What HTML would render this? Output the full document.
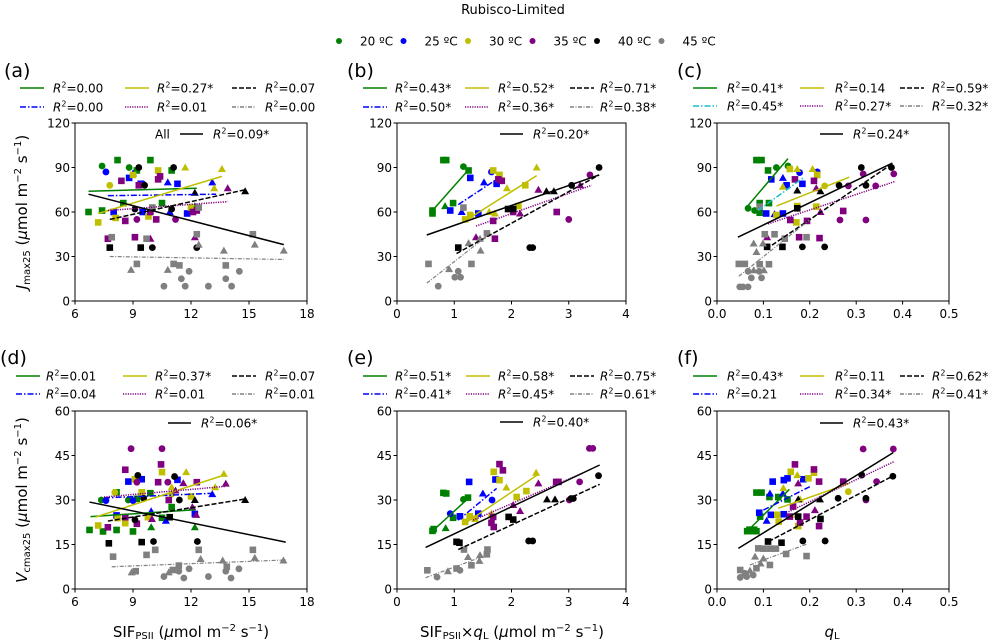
<!DOCTYPE html>
<html><head><meta charset="utf-8">
<style>
html,body{margin:0;padding:0;background:#fff;}
svg{display:block;font-family:"DejaVu Sans","Liberation Sans",sans-serif;}
</style></head>
<body>
<svg id="s" width="1000" height="640" viewBox="0 0 1000 640" xmlns="http://www.w3.org/2000/svg">
<text x="513" y="14" font-size="13" text-anchor="middle">Rubisco-Limited</text>
</svg>
<script>
const S=document.getElementById('s');
const NS='http://www.w3.org/2000/svg';
function el(t,a,txt){const e=document.createElementNS(NS,t);for(const k in a)e.setAttribute(k,a[k]);if(txt!==undefined)e.innerHTML=txt;S.appendChild(e);return e;}
const C=['#008000','#0000ff','#bfbf00','#800080','#000000','#808080'];
const labs=['20 ºC','25 ºC','30 ºC','35 ºC','40 ºC','45 ºC'];
for(let i=0;i<6;i++){const x=339+i*64.5;el('circle',{cx:x,cy:41,r:3,fill:C[i]});el('text',{x:x+21,y:45.5,'font-size':12},labs[i]);}
const DASH={solid:'',dash:'5,2',dashdot:'6,2,1.5,2',dot:'1.2,1.2',dashdot2:'4,1.5,1,1.5'};
function R2(v){return '<tspan font-style="italic">R</tspan><tspan dy="-5" font-size="8">2</tspan><tspan dy="5">='+v+'</tspan>';}
const P=[
{L:75,R:307,T:123,B:301,x0:6,x1:18,ym:120,xt:[6,9,12,15,18],xl:['6','9','12','15','18'],yt:[0,30,60,90,120],lab:'(a)',labY:70,ly:[88,107],
 lx:[20,125,232],tx:[53,157,265],r2:['0.00','0.27*','0.07','0.00','0.01','0.00'],all:[180,134,'0.09*',true],
 pts:[
 "o7.4,91 s8.2,95 o8.8,90 s9.9,95 s6.7,60 s7.4,61 s8.5,66 s9.2,88 s10.5,66 s11,88 t12.2,64",
 "o7.6,87 s8.8,83 t9,86 s9.4,79 o9.5,79 t10.8,80 s11.3,79 t13.1,80 s8,60 s9.5,60 t10.9,60 s11.8,59",
 "s7.2,53 o7.8,78 s8.1,56 s9,85 s9.8,57 s10.3,88 t11.7,90 t13.6,89 t13.2,76 s12,63 s10,63",
 "s7.7,42 s8.4,81 s8.6,54 s9.1,43 o9.2,55 t9.9,42 s10.2,55 s10.4,84 s10.3,82 o11.2,55 t12.2,43 s12.1,60 s12.3,61 t13.9,76 s9.9,60 s9.3,78",
 "o9.3,90 o11.1,90 s7.8,36 s9.4,36 o10,36 o12.3,36 o9.1,62 o11,62 t12.2,73 t14.8,74 o9.6,78",
 "s7.9,43 s9.7,42 t8.9,21 s9.2,25 t10.8,21 s11.1,25 s11.4,24 o11.5,15 o10.6,10 o11.7,10 s12.3,45 t12.4,38 s12.4,63 o11.9,20 o12.9,10 t13.7,34 s13.8,24 o13.8,15 o14.1,10 o14.5,20 s15.2,45 t15.3,38 t16.8,34 s10,63"],
 lines:[[6.7,74,12.3,76],[7.7,71,13.3,72],[7.2,59,13.6,84],[7.7,61,13.9,67],[7.8,55,14.8,75],[7.8,30,16.8,28]],allL:[6.7,72,16.8,38]},
{L:397,R:626,T:123,B:301,x0:0,x1:4,ym:120,xt:[0,1,2,3,4],xl:['0','1','2','3','4'],yt:[0,30,60,90,120],lab:'(b)',labY:70,ly:[88,107],
 lx:[363,465,570],tx:[395,498,600],r2:['0.43*','0.52*','0.71*','0.50*','0.36*','0.38*'],all:[500,134,'0.20*',false],
 pts:[
 "s0.81,95 s0.86,95 o1.16,90.6 s1.25,88 s0.62,61 s0.62,59 t0.84,64 s0.98,66",
 "s1.28,83 o1.65,87 t1.52,80 s1.74,79 s0.93,61 t1.13,60 s1.42,59",
 "s1.68,88 s1.79,85 t1.92,76 s2.24,78 t2.44,90 s1.19,55 s1.28,58 t1.61,60 t1.71,59 s2.12,64",
 "s1.77,82 s1.83,81 t2.47,75 o3.37,85 t3.2,78 s2.79,60 o3.0,55 s1.68,54 t2.15,59 s2.03,60 t1.38,43 s1.71,42",
 "o3.53,90 o3.05,78 t2.61,74 t2.74,74 s1.94,62 s2.03,62 s1.07,36 o2.32,36 o2.37,36",
 "s0.55,25 s1.3,25 t0.91,21.5 o1.07,20 o1.01,16 o1.11,16 o0.72,10 s1.16,63 s1.57,45.6 t1.45,42 t1.25,39 t1.46,34"],
 lines:[[0.62,61,1.26,89],[1.07,65,1.74,82],[1.17,53.5,2.44,84.5],[1.38,50.5,3.4,78],[1.04,32,3.53,85],[0.52,12,1.63,45.6]],allL:[0.52,44.5,3.53,85]},
{L:717,R:949,T:123,B:301,x0:0,x1:0.5,ym:120,xt:[0,.1,.2,.3,.4,.5],xl:['0.0','0.1','0.2','0.3','0.4','0.5'],yt:[0,30,60,90,120],lab:'(c)',labY:70,ly:[88,106],
 lx:[693,800,900],tx:[727,835,932],r2:['0.41*','0.14','0.59*','0.45*','0.27*','0.32*'],all:[820,134,'0.24*',false],cyan:true,
 pts:[
 "s0.085,95 s0.096,95 s0.11,88 o0.128,90 o0.153,91 o0.067,62.5 o0.081,61 s0.092,59.5 s0.112,66 s0.092,66",
 "s0.117,82 t0.142,83 s0.15,78 o0.178,86.6 s0.184,79 o0.216,87 s0.106,59 t0.124,58.6 s0.142,59",
 "s0.157,89 t0.173,89 t0.206,89 s0.216,85 o0.232,77.6 t0.142,77 s0.128,58 s0.171,53 s0.173,64 s0.214,63.6",
 "s0.168,82 s0.209,81 t0.214,76 o0.283,77.6 o0.315,85.7 o0.342,77.6 o0.381,85.7 o0.265,54.6 s0.272,60.7 o0.321,54.6 s0.158,54.6 s0.194,54 t0.108,43 s0.177,43 s0.221,42.4 t0.223,60",
 "o0.311,90 o0.321,78 o0.263,78 t0.223,74 t0.173,74.5 s0.173,62.5 o0.376,90 s0.108,36.5 s0.141,36.5 o0.184,36.5 o0.232,36.5",
 "s0.193,43 s0.124,45 s0.103,45 s0.146,42 t0.079,38.8 t0.099,38.8 t0.085,33 s0.047,25 s0.06,25 s0.092,24.8 s0.112,24.8 o0.067,20 t0.079,20.7 o0.091,20 t0.101,20.7 o0.074,15.6 o0.096,15.6 o0.049,9.5 o0.056,9.5 o0.067,9.5 s0.092,63.6"],
 lines:[[0.065,63.6,0.153,96],[0.088,61,0.186,83],[0.128,64,0.285,83.5],[0.11,52,0.383,80.5],[0.106,35,0.38,93],[0.047,16.7,0.199,54.6]],allL:[0.045,43,0.378,93]},
{L:75,R:307,T:411,B:589,x0:6,x1:18,ym:60,xt:[6,9,12,15,18],xl:['6','9','12','15','18'],yt:[0,15,30,45,60],lab:'(d)',labY:357,ly:[376,394],
 lx:[16,123,232],tx:[46,155,265],r2:['0.01','0.37*','0.07','0.04','0.01','0.01'],all:[168,423,'0.06*',false],
 pts:[
 "o7.36,30 s8.15,32.6 o8.76,30 s9.9,32.3 s6.75,19.9 s7.45,19.4 s8.15,19.9 s9.0,19.4 s9.2,30.4 t9.94,20.8 s10.5,24 s11,27.6 t12.2,20.8",
 "o7.6,29.8 s8.76,36.2 s9.45,37 o9.0,29.8 t9.94,26.2 t10.7,23 s11.3,36.8 s12.2,25.3 t13.1,32 s8.15,24.8",
 "o8.06,32.6 s7.2,21.4 s8.2,23.9 s8.6,22.2 s9.1,37 s9.45,32.6 s9.77,24.2 s10.5,39.4 t11,34.3 t11.75,39.4 s12,31.2 t13.25,34.3 t13.7,38.8 o11,32",
 "o8.9,47.3 o10.5,47.3 s8.6,40.2 o9.2,36 s10.3,36 s10.45,42 o10.8,36 t11.6,35.7 s12.3,36 t13.8,35.5 t11.2,33.2 s7.7,20.8 s8.6,24.2 s9.2,22 t9.98,23.6 s10.85,30 t12.07,27.6 t12.27,25",
 "o9.25,38.3 o11.15,37.9 o9.55,30.6 o11.4,30 t12.2,30 t14.8,30 s7.75,15.4 s9.45,15.8 o10.06,16 o12.33,16 o9.1,23.3 s10.9,24.2",
 "s7.97,10.9 s9.14,6 t8.93,5.6 s9.7,11.5 s10.15,13.2 o10.6,4.2 t10.85,5.6 s11.06,6.4 s11.37,7.9 o11.37,6 o11.63,3.7 o11.9,6.8 s12.4,13.2 t12.5,10.1 o12.9,4.2 t13.64,9.6 s13.85,7.5 o13.8,6 o14.07,3.7 o14.48,6.8 s15.2,13.2 t15.3,10.5 t16.78,9.6"],
 lines:[[6.8,24.4,12.2,26.7],[7.5,30.7,13.25,32.3],[7.05,24.2,13.8,38.6],[7.5,31,13.8,34.6],[7.7,22.9,14.86,30.4],[7.9,7.5,16.9,9.8]],allL:[6.75,29.3,16.9,15.8]},
{L:397,R:626,T:411,B:589,x0:0,x1:4,ym:60,xt:[0,1,2,3,4],xl:['0','1','2','3','4'],yt:[0,15,30,45,60],lab:'(e)',labY:357,ly:[376,394],
 lx:[363,466,570],tx:[395,498,600],r2:['0.51*','0.58*','0.75*','0.41*','0.45*','0.61*'],all:[500,422,'0.40*',false],
 pts:[
 "s0.62,19.6 s0.64,20.2 s0.81,32.4 s0.86,32.2 t0.85,20.5 s0.98,24 s1.24,30.8 o1.16,30.2",
 "o0.93,25.4 s1.26,36.1 t1.5,32.2 o1.66,30 s1.72,36.9 s1.1,24.5 s1.42,25.4",
 "s1.69,39.5 s1.79,36.7 t1.91,34.2 s2.26,33 t2.43,39.2 s1.19,22.6 s1.27,24.5 s1.36,23.7 t1.65,25.4 s2.09,31",
 "s1.79,42.1 s1.85,40 t2.47,35.6 o3.36,47.4 o3.42,47.4 o3.19,36.1 s2.78,36.1 s2.82,36.1 o3.01,30 s1.65,22.3 s1.69,20.9 t2.15,26.3 t2.03,28.3 s1.68,24.3",
 "o3.52,38.2 o3.08,30.5 o3.04,30.5 t2.62,30.2 t2.76,30.2 s1.95,24.3 s2.03,23.4 s1.04,15.9 s1.09,15.6 o2.3,16.2 o2.37,16.2",
 "s0.53,6.3 o0.7,4 t0.89,6 s1.04,6.9 o1.1,6.3 t1.24,10.8 s1.3,8 t1.45,11.4 s1.57,11.7 s1.58,13.3 s1.17,13.3 t1.44,9.5"],
 lines:[[0.6,19.2,1.27,31],[1.07,23.2,1.74,33.9],[1.16,21.8,2.47,38.7],[1.33,23.2,3.26,39.2],[1.07,13.3,3.54,35.3],[0.5,3.8,1.56,11.4]],allL:[0.5,14,3.54,41.8]},
{L:717,R:949,T:411,B:589,x0:0,x1:0.5,ym:60,xt:[0,.1,.2,.3,.4,.5],xl:['0.0','0.1','0.2','0.3','0.4','0.5'],yt:[0,15,30,45,60],lab:'(f)',labY:357,ly:[376,394],
 lx:[693,800,900],tx:[727,835,932],r2:['0.43*','0.11','0.62*','0.21','0.34*','0.41*'],all:[820,423,'0.43*',false],
 pts:[
 "s0.07,20 s0.075,19.5 s0.08,20 s0.085,19.5 s0.065,19.5 s0.085,32.5 s0.096,32.5 s0.113,31 s0.132,31 s0.093,24.4 s0.152,30.2",
 "s0.091,25.7 s0.12,36.2 s0.144,36.7 s0.152,37.3 s0.186,37 t0.114,32.2 t0.142,32.2 t0.107,23 s0.116,25 s0.144,25.2",
 "s0.159,39.5 t0.173,38.4 s0.197,37.3 s0.209,39.2 t0.143,34 o0.283,32.8 s0.13,25 s0.133,22.7 s0.175,21.2 t0.179,30.2 t0.172,25",
 "s0.168,42 s0.209,40.3 o0.315,47.2 o0.38,47.2 o0.344,36.2 s0.272,36.2 s0.22,36.2 t0.175,35.6 o0.321,30 s0.164,27.8 s0.193,24.4 s0.157,24.4 t0.211,26.6 s0.179,22.4 s0.22,21.2",
 "o0.379,38 o0.312,38.4 o0.261,30.6 o0.321,30.6 t0.222,30.2 t0.175,30.2 s0.175,24.4 s0.223,23.6 s0.11,16 s0.139,15.6 o0.185,16.2 o0.233,16.2",
 "s0.089,13.7 s0.1,13.6 s0.114,13.6 s0.127,13.6 s0.149,11.8 s0.193,11.1 t0.082,10.9 t0.1,10.3 s0.114,8.1 s0.05,6.4 o0.06,5.3 t0.071,6.2 s0.085,7 t0.094,8.6 o0.05,3.9 o0.064,4.2 o0.078,4.7"],
 lines:[[0.064,19.3,0.156,33.6],[0.1,26.6,0.2,34.5],[0.132,27.2,0.285,35.6],[0.154,26,0.381,42.9],[0.111,16,0.379,38.1],[0.071,8.1,0.195,15.2]],allL:[0.046,13.7,0.38,46]}
];
const order=[0,2,4,1,3,5];
const sty=[['solid',1.5],['dashdot',1.5],['solid',1.5],['dot',1.5],['dash',1.5],['dashdot2',1.2]];
P.forEach(p=>{
 const X=v=>p.L+(v-p.x0)/(p.x1-p.x0)*(p.R-p.L), Y=v=>p.B-v/p.ym*(p.B-p.T);
 p.xt.forEach((v,i)=>{const x=X(v);el('line',{x1:x,y1:p.B,x2:x,y2:p.B+3.5,stroke:'#000','stroke-width':1});el('text',{x:x,y:p.B+17,'font-size':12,'text-anchor':'middle'},p.xl[i]);});
 p.yt.forEach(v=>{const y=Y(v);el('line',{x1:p.L-3.5,y1:y,x2:p.L,y2:y,stroke:'#000','stroke-width':1});el('text',{x:p.L-5,y:y+4.5,'font-size':12,'text-anchor':'end'},String(v));});
 p.pts.forEach((str,ci)=>{str.split(' ').forEach(tk=>{const m=tk[0];const [a,b]=tk.slice(1).split(',').map(Number);const x=X(a),y=Y(b);
  if(m==='o')el('circle',{cx:x,cy:y,r:3.4,fill:C[ci]});
  else if(m==='s')el('rect',{x:x-3.3,y:y-3.3,width:6.6,height:6.6,fill:C[ci]});
  else el('polygon',{points:`${x},${y-4} ${x-4},${y+3} ${x+4},${y+3}`,fill:C[ci]});});});
 p.lines.forEach((l,ci)=>{const col=(ci===1&&p.cyan)?'#17becf':C[ci];el('line',{x1:X(l[0]),y1:Y(l[1]),x2:X(l[2]),y2:Y(l[3]),stroke:col,'stroke-width':sty[ci][1],'stroke-dasharray':DASH[sty[ci][0]]});});
 el('line',{x1:X(p.allL[0]),y1:Y(p.allL[1]),x2:X(p.allL[2]),y2:Y(p.allL[3]),stroke:'#000','stroke-width':1.5});
 el('rect',{x:p.L,y:p.T,width:p.R-p.L,height:p.B-p.T,fill:'none',stroke:'#000','stroke-width':1});
 el('text',{x:p.lx[0]-16<0?2:p.lx[0]-16,y:p.labY+7,'font-size':19},p.lab);
 for(let r=0;r<2;r++)for(let c=0;c<3;c++){const ci=order[r*3+c];const y=p.ly[r];
  const col=(ci===1&&p.cyan)?'#17becf':C[ci];
  el('line',{x1:p.lx[c],y1:y,x2:p.lx[c]+24,y2:y,stroke:col,'stroke-width':1.6,'stroke-dasharray':DASH[sty[ci][0]]});
  el('text',{x:p.tx[c],y:y+4.5,'font-size':12},R2(p.r2[r*3+c]));}
 const a=p.all;
 if(a[3])el('text',{x:a[0]-25,y:a[1]+4.5,'font-size':12},'All');
 el('line',{x1:a[0],y1:a[1],x2:a[0]+23,y2:a[1],stroke:'#000','stroke-width':1.5});
 el('text',{x:a[0]+33,y:a[1]+4.5,'font-size':12},R2(a[2]));
});
el('text',{transform:'translate(27,212) rotate(-90)','font-size':15,'text-anchor':'middle'},'<tspan font-style="italic">J</tspan><tspan font-size="10" dy="3">max25</tspan><tspan dy="-3"> (</tspan><tspan font-style="italic">μ</tspan>mol m<tspan dy="-6" font-size="10">−2</tspan><tspan dy="6"> s</tspan><tspan dy="-6" font-size="10">−1</tspan><tspan dy="6">)</tspan>');
el('text',{transform:'translate(27,500) rotate(-90)','font-size':15,'text-anchor':'middle'},'<tspan font-style="italic">V</tspan><tspan font-size="10" dy="3">cmax25</tspan><tspan dy="-3"> (</tspan><tspan font-style="italic">μ</tspan>mol m<tspan dy="-6" font-size="10">−2</tspan><tspan dy="6"> s</tspan><tspan dy="-6" font-size="10">−1</tspan><tspan dy="6">)</tspan>');
el('text',{x:191,y:637,'font-size':15,'text-anchor':'middle'},'SIF<tspan font-size="10" dy="2">PSII</tspan><tspan dy="-2"> (</tspan><tspan font-style="italic">μ</tspan>mol m<tspan dy="-6" font-size="10">−2</tspan><tspan dy="6"> s</tspan><tspan dy="-6" font-size="10">−1</tspan><tspan dy="6">)</tspan>');
el('text',{x:512,y:637,'font-size':15,'text-anchor':'middle'},'SIF<tspan font-size="10" dy="2">PSII</tspan><tspan dy="-2">×</tspan><tspan font-style="italic">q</tspan><tspan font-size="10" dy="2">L</tspan><tspan dy="-2"> (</tspan><tspan font-style="italic">μ</tspan>mol m<tspan dy="-6" font-size="10">−2</tspan><tspan dy="6"> s</tspan><tspan dy="-6" font-size="10">−1</tspan><tspan dy="6">)</tspan>');
el('text',{x:832,y:637,'font-size':15,'text-anchor':'middle'},'<tspan font-style="italic">q</tspan><tspan font-size="10" dy="2">L</tspan>');
</script>
</body></html>
